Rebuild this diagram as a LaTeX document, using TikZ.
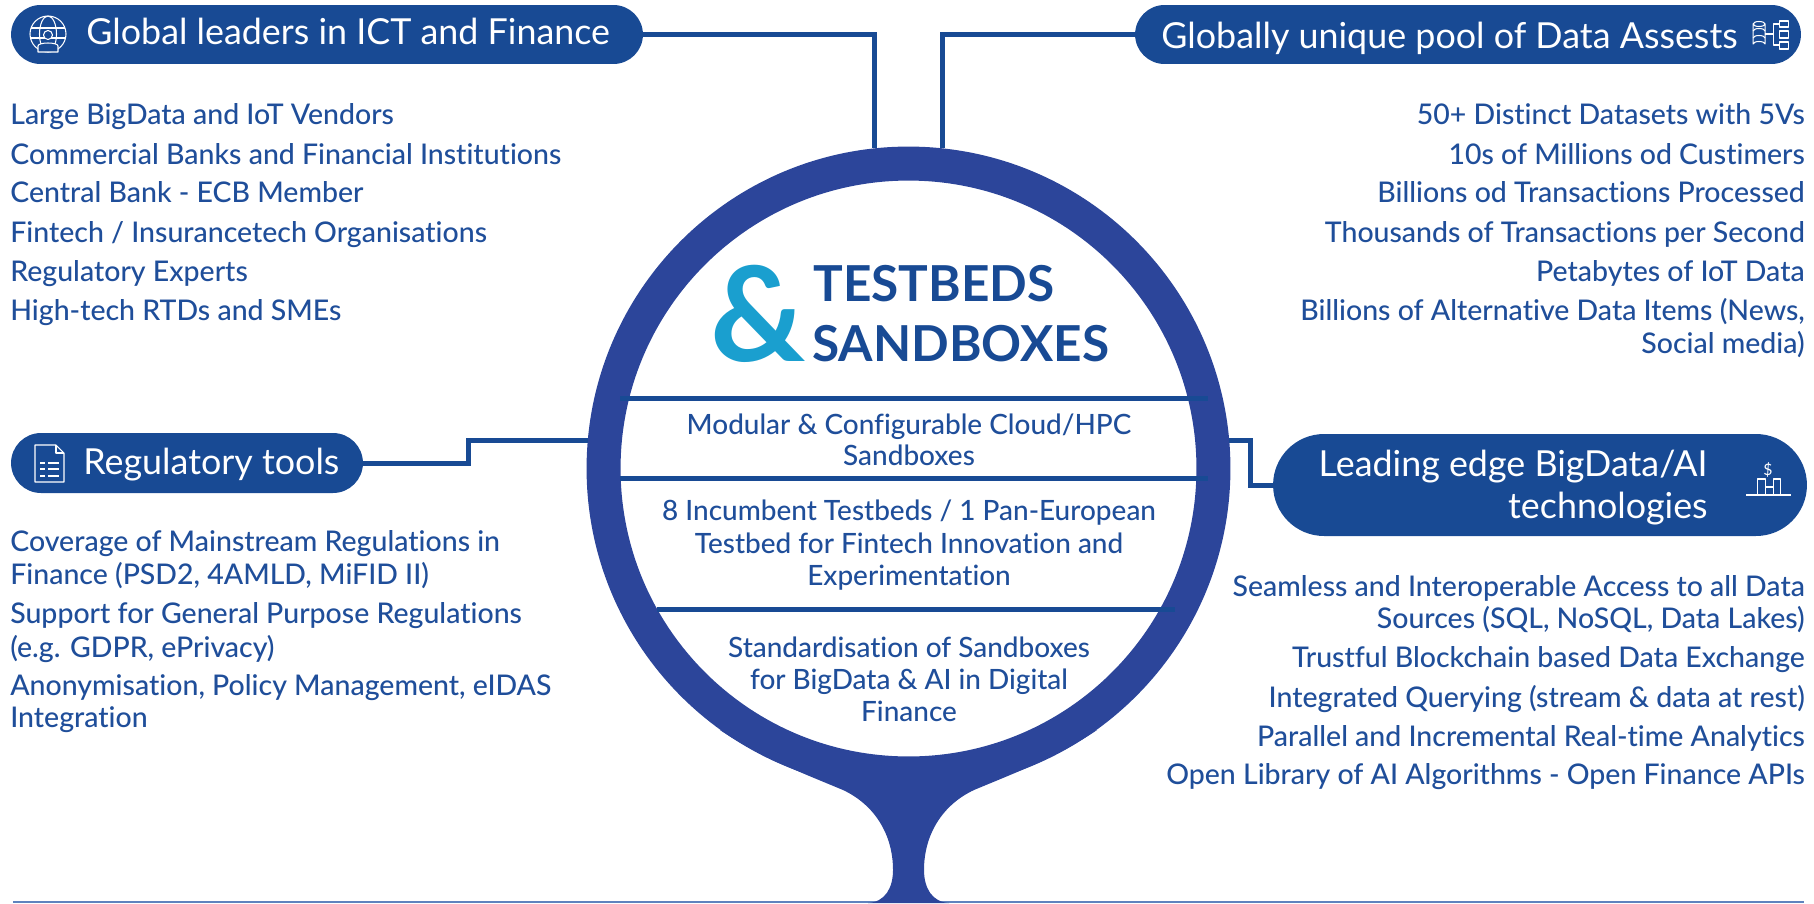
\documentclass[tikz,border=0pt]{standalone}
\usepackage{fontspec}
\setmainfont{Lato}
\newfontfamily\bodyfont[Ligatures=NoCommon]{Lato Medium}
\usetikzlibrary{shapes.misc,positioning,calc}
\definecolor{pillblue}{HTML}{184A94}
\definecolor{ringblue}{HTML}{2C459A}
\definecolor{textblue}{HTML}{1F4E9A}
\definecolor{ampblue}{HTML}{1A9FCF}
\definecolor{floorblue}{HTML}{5F83BE}
\newcommand{\bodysize}{\fontsize{16.2pt}{18pt}\selectfont\bodyfont}
\newcommand{\ringsize}{\fontsize{15.9pt}{18pt}\selectfont\bodyfont}
\newcommand{\pillsize}{\fontsize{20.4pt}{22pt}\selectfont}
\tikzset{
  pill/.style={rounded rectangle,fill=pillblue,inner sep=0pt,outer sep=0pt},
  pilltext/.style={text=white,font=\pillsize,inner sep=0pt},
  leftline/.style={anchor=base west,text=textblue,font=\bodysize,inner sep=0pt},
  rightline/.style={anchor=base east,text=textblue,font=\bodysize,inner sep=0pt},
  midline/.style={anchor=base,text=textblue,font=\ringsize,inner sep=0pt},
  titleline/.style={anchor=base west,text=pillblue,font=\fontsize{28.2pt}{30pt}\selectfont\bfseries,inner sep=0pt},
  link/.style={draw=pillblue,line width=0.1cm},
  rulebar/.style={draw=pillblue,line width=0.1cm},
  icon/.style={draw=white,line width=0.6pt,line join=round}
}
\begin{document}
\begin{tikzpicture}[x=0.02cm,y=-0.02cm]
\useasboundingbox (0,0) rectangle (1814,903);
% floor and stem
\coordinate (floorl) at (13,902);
\coordinate (floorr) at (1804,902);
\draw[floorblue,line width=0.04cm] (floorl) -- (floorr);
\fill[ringblue] (720,730) .. controls (760,757) and (800,772) .. (843,790)
.. controls (875,805) and (893,835) .. (893,870)
.. controls (893,888) and (885,902) .. (868,903)
-- (949,903)
.. controls (932,902) and (924,888) .. (924,870)
.. controls (924,835) and (942,805) .. (974,790)
.. controls (1017,772) and (1057,757) .. (1097,730)
-- (908.5,775) -- cycle;
% ring
\node[circle,draw=ringblue,line width=0.68cm,minimum size=12.2cm,inner sep=0pt] (ring) at (908.5,468.5) {};
% pills
\node[pill,minimum width=12.64cm,minimum height=1.18cm] (pglobal) at (327,34.5) {};
\node[pill,minimum width=13.32cm,minimum height=1.18cm] (pdata) at (1468,34.5) {};
\node[pill,minimum width=7.04cm,minimum height=1.2cm] (preg) at (187,463) {};
\node[pill,minimum width=10.68cm,minimum height=2.04cm] (ptech) at (1540,485) {};
% links
\draw[link] (pglobal.east) -| (ring.96);
\draw[link] (pdata.west) -| (ring.84);
\draw[link] (preg.east) -- ++(106,0) |- (ring.175);
\draw[link] (ring.5) -- ++(21,0) |- (ptech.west);
% rules in the ring
\coordinate (rulea) at (620,398);
\coordinate (ruleb) at (1208,398);
\coordinate (rulec) at (620,478);
\coordinate (ruled) at (1208,478);
\coordinate (rulee) at (657,609);
\coordinate (rulef) at (1175,609);
\draw[rulebar] (rulea) -- (ruleb);
\draw[rulebar] (rulec) -- (ruled);
\draw[rulebar] (rulee) -- (rulef);
% pill labels
\node[pilltext,anchor=base west] (tglobal) at (86,44) {Global leaders in ICT and Finance};
\node[pilltext,anchor=base west] (tdata) at (1161,48) {Globally unique pool of Data Assests};
\node[pilltext,anchor=base west] (treg) at (83,474) {Regulatory tools};
\node[pilltext,anchor=base east] (ttecha) at (1708,476) {Leading edge BigData/AI};
\node[pilltext,anchor=base east] (ttechb) at (1708,518) {technologies};
% title
\node[anchor=base west,text=ampblue,font=\fontsize{75pt}{80pt}\selectfont\bfseries,inner sep=0pt] (tamp) at (710,361) {\&};
\node[titleline] (ttesta) at (813,301) {TESTBEDS};
\node[titleline] (ttestb) at (812,361) {SANDBOXES};
% ring text
\node[midline] (ma) at (909,434) {Modular \& Configurable Cloud/HPC};
\node[midline] (mb) at (909,465) {Sandboxes};
\node[midline] (mc) at (909,520) {8 Incumbent Testbeds / 1 Pan-European};
\node[midline] (md) at (909,553) {Testbed for Fintech Innovation and};
\node[midline] (me) at (909,585) {Experimentation};
\node[midline] (mf) at (909,657) {Standardisation of Sandboxes};
\node[midline] (mg) at (909,689) {for BigData \& AI in Digital};
\node[midline] (mh) at (909,721) {Finance};
% top left
\node[leftline] (la) at (10,124) {Large BigData and IoT Vendors};
\node[leftline] (lb) at (10,164) {Commercial Banks and Financial Institutions};
\node[leftline] (lc) at (10,202) {Central Bank - ECB Member};
\node[leftline] (ld) at (10,242) {Fintech / Insurancetech Organisations};
\node[leftline] (le) at (10,281) {Regulatory Experts};
\node[leftline] (lf) at (10,320) {High-tech RTDs and SMEs};
% bottom left
\node[leftline] (lg) at (10,551) {Coverage of Mainstream Regulations in};
\node[leftline] (lh) at (10,584) {Finance (PSD2, 4AMLD, MiFID II)};
\node[leftline] (li) at (10,623) {Support for General Purpose Regulations};
\node[leftline] (lj) at (10,657) {(e.g. GDPR, ePrivacy)};
\node[leftline] (lk) at (10,695) {Anonymisation, Policy Management, eIDAS};
\node[leftline] (ll) at (10,727) {Integration};
% top right
\node[rightline] (ra) at (1805,124) {50+ Distinct Datasets with 5Vs};
\node[rightline] (rb) at (1805,164) {10s of Millions od Custimers};
\node[rightline] (rc) at (1805,202) {Billions od Transactions Processed};
\node[rightline] (rd) at (1805,242) {Thousands of Transactions per Second};
\node[rightline] (re) at (1805,281) {Petabytes of IoT Data};
\node[rightline] (rf) at (1805,320) {Billions of Alternative Data Items (News,};
\node[rightline] (rg) at (1805,353) {Social media)};
% bottom right
\node[rightline] (rh) at (1805,596) {Seamless and Interoperable Access to all Data};
\node[rightline] (ri) at (1805,628) {Sources (SQL, NoSQL, Data Lakes)};
\node[rightline] (rj) at (1805,667) {Trustful Blockchain based Data Exchange};
\node[rightline] (rk) at (1805,707) {Integrated Querying (stream \& data at rest)};
\node[rightline] (rl) at (1805,746) {Parallel and Incremental Real-time Analytics};
\node[rightline] (rm) at (1805,784) {Open Library of AI Algorithms - Open Finance APIs};
% globe icon
\draw[icon] (48,34) circle (0.36cm);
\draw[icon] (48,34) ellipse (0.17cm and 0.36cm);
\draw[icon] (31,28) -- (65,28) (30.5,38) -- (65.5,38);
\draw[icon,fill=pillblue] (48,35) circle (0.09cm);
\draw[icon,fill=pillblue] (38,52) -- (38,46) .. controls (38,42) and (58,42) .. (58,46) -- (58,52) -- cycle;
% database icon
\draw[icon] (1753,24) arc (180:0:6 and 2.5) -- (1765,44) arc (0:-180:6 and 2.5) -- cycle;
\draw[icon] (1753,24) arc (180:360:6 and 2.5);
\draw[icon] (1753,31) arc (180:360:6 and 2.5) (1753,38) arc (180:360:6 and 2.5);
\draw[icon] (1779,21) rectangle (1788,27) (1779,31) rectangle (1788,38) (1779,42) rectangle (1788,49);
\draw[icon] (1765,34) -- (1773,34) (1779,24) -| (1773,45) -- (1779,45);
% document icon
\draw[icon] (35,445) -- (56,445) -- (64,453) -- (64,482) -- (35,482) -- cycle;
\draw[icon] (56,445) -- (56,453) -- (64,453);
\draw[icon] (40,463) -- (45,463) (48,463) -- (59,463) (40,469) -- (45,469) (48,469) -- (59,469) (40,476) -- (45,476) (48,476) -- (59,476);
% bars icon
\draw[icon] (1746,495) -- (1791,495);
\draw[icon] (1757,495) |- (1765,479) -- (1765,495) (1765,487) -- (1773,487) (1773,495) |- (1780,479) -- (1780,495);
\node[text=white,font=\fontsize{9pt}{10pt}\selectfont,inner sep=0pt] (tdollar) at (1768,470) {\$};
\end{tikzpicture}
\end{document}
